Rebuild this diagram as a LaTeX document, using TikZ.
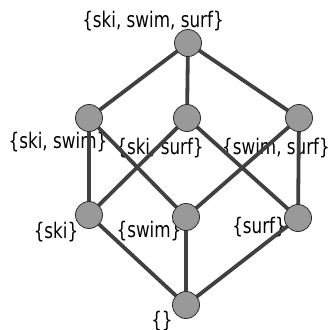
\documentclass[tikz,border=0pt]{standalone}
\usepackage{fontspec}
\setmainfont{DejaVu Sans}
\newfontfamily\lblfont[FakeStretch=0.78]{DejaVu Sans}
\definecolor{edgec}{HTML}{404040}
\definecolor{nodefill}{HTML}{999999}
\definecolor{nodeborder}{HTML}{2A2A2A}
\begin{document}
\begin{tikzpicture}[x=1pt,y=-1pt,
  vert/.style={circle,fill=nodefill,draw=nodeborder,line width=0.8pt,minimum size=27pt,inner sep=0pt},
  lbl/.style={inner sep=0pt,font=\lblfont\fontsize{21.5}{24}\selectfont,text=black},
  edge/.style={draw=edgec,line width=3.8pt}]
\useasboundingbox (0,0) rectangle (331,329);
% labels (drawn first, lines pass over them)
\node[lbl] (l123) at (153,21) {\{ski, swim, surf\}};
\node[lbl] (l12) at (58,142) {\{ski, swim\}};
\node[lbl] (l13) at (160,148) {\{ski, surf\}};
\node[lbl] (l23) at (276,148) {\{swim, surf\}};
\node[lbl] (l1) at (56,232) {\{ski\}};
\node[lbl] (l2) at (149,231) {\{swim\}};
\node[lbl] (l3) at (259,227) {\{surf\}};
\node[lbl] (l0) at (162,321) {\{\}};
% coordinates of vertices
\coordinate (c123) at (188,43);
\coordinate (c12) at (89,118);
\coordinate (c13) at (187,118);
\coordinate (c23) at (299,118);
\coordinate (c1) at (89,215);
\coordinate (c2) at (186,217);
\coordinate (c3) at (298,218);
\coordinate (c0) at (186,305);
% edges
\draw[edge] (c123) -- (c12);
\draw[edge] (c123) -- (c13);
\draw[edge] (c123) -- (c23);
\draw[edge] (c12) -- (c1);
\draw[edge] (c12) -- (c2);
\draw[edge] (c13) -- (c1);
\draw[edge] (c13) -- (c3);
\draw[edge] (c23) -- (c2);
\draw[edge] (c23) -- (c3);
\draw[edge] (c1) -- (c0);
\draw[edge] (c2) -- (c0);
\draw[edge] (c3) -- (c0);
% vertices
\node[vert] (v123) at (c123) {};
\node[vert] (v12) at (c12) {};
\node[vert] (v13) at (c13) {};
\node[vert] (v23) at (c23) {};
\node[vert] (v1) at (c1) {};
\node[vert] (v2) at (c2) {};
\node[vert] (v3) at (c3) {};
\node[vert] (v0) at (c0) {};
\end{tikzpicture}
\end{document}
